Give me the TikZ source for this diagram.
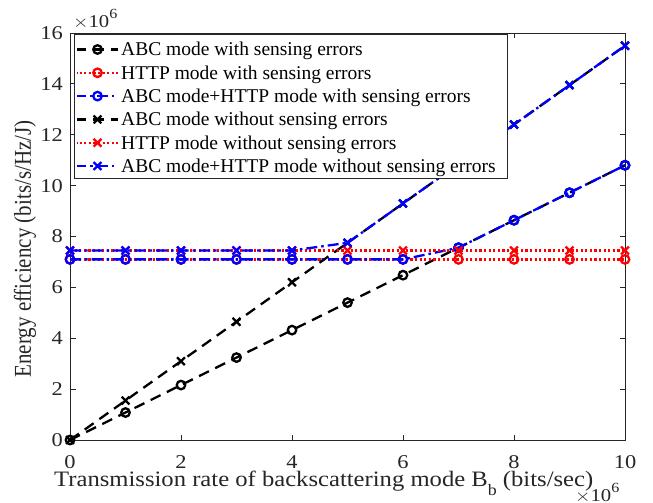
\documentclass[tikz,border=0pt]{standalone}
\usepackage{fontspec}
\setmainfont{Liberation Serif}
\usetikzlibrary{shapes.misc}
\newcommand{\hstretch}[1]{\scalebox{1.15}[1]{#1}}
\newcommand{\tenpowsix}{\hstretch{$\times$10\raisebox{0.5em}{\fontsize{14bp}{15bp}\selectfont 6}}}
\begin{document}
\begin{tikzpicture}[x=1bp,y=-1bp]
\definecolor{axgray}{gray}{0.15}
\tikzset{
  dashblack/.style={black, line width=2.3bp, dash pattern=on 11bp off 7bp},
  dotred/.style={red, line width=2.3bp, dash pattern=on 2.2bp off 2.4bp},
  dashdotblue/.style={blue, line width=2.3bp, dash pattern=on 11bp off 4bp on 2.5bp off 4bp},
  circmark/.style={circle, draw, line width=2.3bp, minimum size=8.5bp, inner sep=0pt, solid},
  xmark/.style={cross out, draw, line width=2.3bp, minimum size=5.5bp, inner sep=0pt, solid},
  ticklab/.style={font=\fontsize{19.5bp}{21bp}\selectfont, text=axgray, inner sep=0pt},
  leglab/.style={font=\fontsize{19.5bp}{21bp}\selectfont, text=black, inner sep=0pt, anchor=base west},
  axlab/.style={text=axgray, inner sep=0pt},
  axline/.style={axgray, line width=0.9bp}
}
\useasboundingbox[fill=white] (0,0) rectangle (653,503);

% axes box and ticks
\draw[axline] (70,33) rectangle (625,440);
\foreach \i in {0,2,4,6,8,10}{
  \pgfmathsetmacro{\px}{70+55.5*\i}
  \draw[axline] (\px,440) -- (\px,434.5);
  \draw[axline] (\px,33) -- (\px,38.5);
  \node[ticklab, anchor=base] (xt\i) at (\px,468) {\hstretch{\i}};
}
\foreach \i in {0,2,4,6,8,10,12,14,16}{
  \pgfmathsetmacro{\py}{440-25.4375*\i}
  \draw[axline] (70,\py) -- (75.5,\py);
  \draw[axline] (625,\py) -- (619.5,\py);
  \node[ticklab, anchor=base east] (yt\i) at (63,\py+6.5) {\hstretch{\i}};
}
\node[ticklab, anchor=base west, font=\fontsize{18bp}{19bp}\selectfont] (ymult) at (73,27.5) {\tenpowsix};
\node[ticklab, anchor=base west, font=\fontsize{18bp}{19bp}\selectfont] (xmult) at (575,501) {\tenpowsix};

% axis labels
\node[axlab, anchor=base west, font=\fontsize{22bp}{23bp}\selectfont] (xlabel) at (54,486) {\scalebox{1.12}[1]{Transmission rate of backscattering mode B\raisebox{-0.42em}{\fontsize{16bp}{17bp}\selectfont b} (bits/sec)}};
\node[axlab, rotate=90, font=\fontsize{21bp}{22bp}\selectfont] (ylabel) at (25,249) {\scalebox{1}[1.15]{Energy efficiency (bits/s/Hz/J)}};

% data
\begin{scope}[shift={(70,440)}, x=55.5bp, y=25.4375bp]
  % ABC with sensing errors
  \draw[dashblack] plot coordinates {(0,0) (1,1.08) (2,2.16) (3,3.24) (4,4.32) (5,5.4) (6,6.48) (7,7.56) (8,8.64) (9,9.72) (10,10.8)};
  \foreach \i in {0,...,10}{ \node[circmark, black] (ae\i) at (\i,1.08*\i) {}; }
  % HTTP with sensing errors
  \draw[dotred] (0,7.1) -- (10,7.1);
  \foreach \i in {0,...,10}{ \node[circmark, red] (he\i) at (\i,7.1) {}; }
  % ABC+HTTP with sensing errors
  \draw[dashdotblue] plot coordinates {(0,7.1) (1,7.1) (2,7.1) (3,7.1) (4,7.1) (5,7.1) (6,7.1) (7,7.56) (8,8.64) (9,9.72) (10,10.8)};
  \foreach \i/\v in {0/7.1,1/7.1,2/7.1,3/7.1,4/7.1,5/7.1,6/7.1,7/7.56,8/8.64,9/9.72,10/10.8}{ \node[circmark, blue] (be\i) at (\i,\v) {}; }
  % ABC without sensing errors
  \draw[dashblack] plot coordinates {(0,0) (1,1.55) (2,3.1) (3,4.65) (4,6.2) (5,7.75) (6,9.3) (7,10.85) (8,12.4) (9,13.95) (10,15.5)};
  \foreach \i in {0,...,10}{ \node[xmark, black] (an\i) at (\i,1.55*\i) {}; }
  % HTTP without sensing errors
  \draw[dotred] (0,7.45) -- (10,7.45);
  \foreach \i in {0,...,10}{ \node[xmark, red] (hn\i) at (\i,7.45) {}; }
  % ABC+HTTP without sensing errors
  \draw[dashdotblue] plot coordinates {(0,7.45) (1,7.45) (2,7.45) (3,7.45) (4,7.45) (5,7.75) (6,9.3) (7,10.85) (8,12.4) (9,13.95) (10,15.5)};
  \foreach \i/\v in {0/7.45,1/7.45,2/7.45,3/7.45,4/7.45,5/7.75,6/9.3,7/10.85,8/12.4,9/13.95,10/15.5}{ \node[xmark, blue] (bn\i) at (\i,\v) {}; }
\end{scope}

% legend
\draw[axgray, line width=0.9bp, fill=white] (74,34) rectangle (507,178);
\foreach \k/\sty/\mk/\col/\txt in {
  0/dashblack/circmark/black/{ABC mode with sensing errors},
  1/dotred/circmark/red/{HTTP mode with sensing errors},
  2/dashdotblue/circmark/blue/{ABC mode+HTTP mode with sensing errors},
  3/dashblack/xmark/black/{ABC mode without sensing errors},
  4/dotred/xmark/red/{HTTP mode without sensing errors},
  5/dashdotblue/xmark/blue/{ABC mode+HTTP mode without sensing errors}}{
  \pgfmathsetmacro{\ly}{49.5+23.3*\k}
  \draw[\sty, dash phase=2bp] (77,\ly) -- (118,\ly);
  \node[\mk, \col] (lm\k) at (97.5,\ly) {};
  \node[leglab] (lt\k) at (121,\ly+6.5) {\txt};
}
\end{tikzpicture}
\end{document}
